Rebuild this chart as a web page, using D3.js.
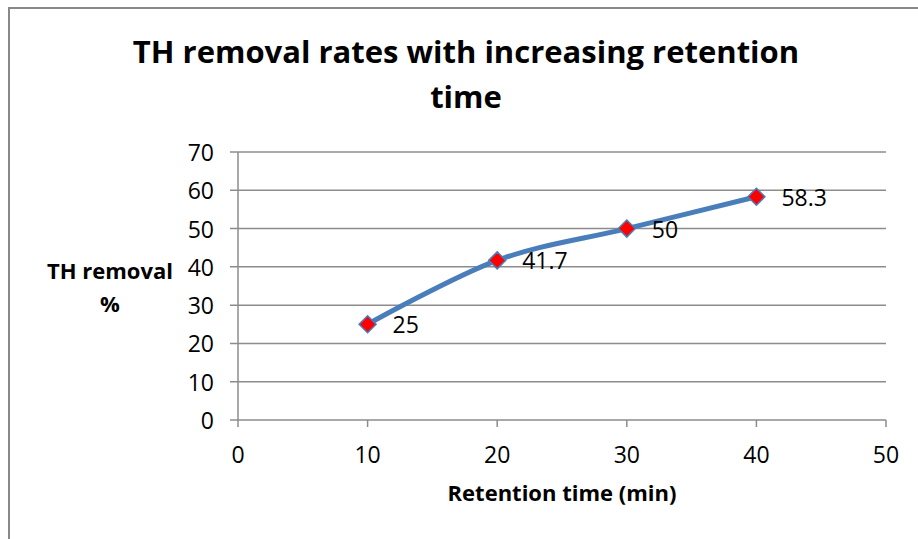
<!DOCTYPE html>
<html><head><meta charset="utf-8">
<script src="https://cdn.jsdelivr.net/npm/d3@7"></script>
<style>body{margin:0;background:#fff}svg{display:block}text{font-family:"Open Sans",sans-serif}</style>
</head><body><svg id="c" width="918" height="539"></svg>
<script>
const xValues = [10, 20, 30, 40];
const yValues = [25, 41.7, 50, 58.3];
const dataLabels = ["25", "41.7", "50", "58.3"];
const xTicks = [0, 10, 20, 30, 40, 50];
const yTicks = [0, 10, 20, 30, 40, 50, 60, 70];
const titleLines = ["TH removal rates with increasing retention", "time"];
const xTitle = "Retention time (min)";
const yTitleLines = ["TH removal", "%"];

const svg = d3.select("#c");
svg.append("path").attr("d","M9,539 V8 H918").attr("fill","none").attr("stroke","#888").attr("stroke-width",2);

const x = d3.scaleLinear().domain([0,50]).range([238,886]);
const y = d3.scaleLinear().domain([0,70]).range([420,152]);

svg.append("g").selectAll("line").data(yTicks).join("line")
  .attr("x1",230).attr("x2",886).attr("y1",d=>y(d)).attr("y2",d=>y(d))
  .attr("stroke","#8c8c8c").attr("stroke-width",1.5);
svg.append("line").attr("x1",238).attr("x2",238).attr("y1",152).attr("y2",420).attr("stroke","#8c8c8c").attr("stroke-width",1.5);
svg.append("g").selectAll("line").data(xTicks).join("line")
  .attr("x1",d=>x(d)).attr("x2",d=>x(d)).attr("y1",420).attr("y2",427)
  .attr("stroke","#8c8c8c").attr("stroke-width",1.5);

svg.append("g").selectAll("text").data(yTicks).join("text")
  .attr("x",214).attr("y",d=>y(d)+9).attr("text-anchor","end")
  .attr("font-size",23).attr("fill","#000").text(d=>d);
svg.append("g").selectAll("text").data(xTicks).join("text")
  .attr("x",d=>x(d)).attr("y",463).attr("text-anchor","middle")
  .attr("font-size",23).attr("fill","#000").text(d=>d);

svg.append("g").selectAll("text").data(titleLines).join("text")
  .attr("x",466).attr("y",(d,i)=>63+i*45).attr("text-anchor","middle")
  .attr("font-size",31).attr("font-weight","bold").text(d=>d);
svg.append("text").attr("x",562).attr("y",501).attr("text-anchor","middle")
  .attr("font-size",22).attr("font-weight","bold").text(xTitle);
svg.append("g").selectAll("text").data(yTitleLines).join("text")
  .attr("x",110).attr("y",(d,i)=>279+i*33).attr("text-anchor","middle")
  .attr("font-size",22).attr("font-weight","bold").text(d=>d);

const pts = xValues.map((v,i)=>[x(v), y(yValues[i])]);
svg.append("path").attr("d", d3.line().curve(d3.curveCatmullRom.alpha(0))(pts))
  .attr("fill","none").attr("stroke","#4a7ebb").attr("stroke-width",5).attr("stroke-linecap","round");

svg.append("g").selectAll("path").data(pts).join("path")
  .attr("d", d=>`M${d[0]},${d[1]-8.5} L${d[0]+8.5},${d[1]} L${d[0]},${d[1]+8.5} L${d[0]-8.5},${d[1]} Z`)
  .attr("fill","#ff0000").attr("stroke","#4a7ebb").attr("stroke-width",1.5);

svg.append("g").selectAll("text").data(pts).join("text")
  .attr("x",d=>d[0]+25).attr("y",d=>d[1]+9)
  .attr("font-size",23).text((d,i)=>dataLabels[i]);
</script></body></html>
